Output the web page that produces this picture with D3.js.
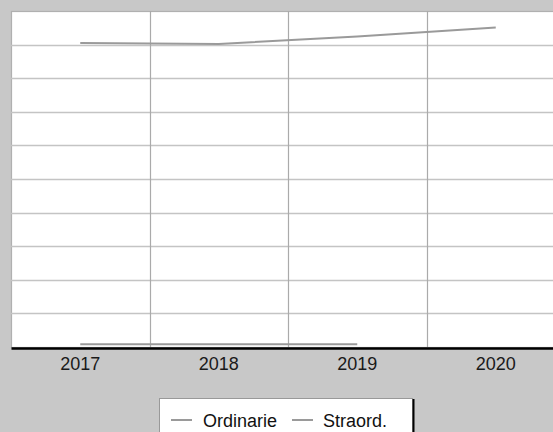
<!DOCTYPE html>
<html><head><meta charset="utf-8">
<script src="https://cdn.jsdelivr.net/npm/d3@7"></script>
<style>html,body{margin:0;padding:0;background:#c8c8c8;overflow:hidden}</style>
</head><body>
<svg id="c" width="553" height="432"></svg>
<script>
const categories = ["2017","2018","2019","2020"];
const ordinarie = [905, 902, 924, 951];
const straord = [8, 8, 8, null];
const yTicks = [0,100,200,300,400,500,600,700,800,900,1000];
const seriesNames = ["Ordinarie","Straord."];

(function(){
const svg = d3.select("#c");
const W = 553, H = 432;
const pL = 11, pT = 11, pB = 347, pR = 565;
const font = "'Liberation Sans', Arial, sans-serif";
svg.append("rect").attr("width",W).attr("height",H).attr("fill","#c8c8c8");

const x = d3.scaleBand().domain(categories).range([pL,pR]);
const y = d3.scaleLinear().domain([0,1000]).range([pB,pT]);

svg.append("rect").attr("x",pL+0.5).attr("y",pT+0.5).attr("width",pR-pL).attr("height",pB-pT)
  .attr("fill","#fff").attr("stroke","#b0b0b0").attr("stroke-width",1.2);

svg.append("g").selectAll("line").data(yTicks.slice(1,-1)).join("line")
  .attr("x1",pL).attr("x2",pR).attr("y1",d=>Math.round(y(d))+0.5).attr("y2",d=>Math.round(y(d))+0.5)
  .attr("stroke","#c4c4c4").attr("stroke-width",1.5);
svg.append("g").selectAll("line").data(categories.slice(1)).join("line")
  .attr("x1",d=>Math.round(x(d))+0.5).attr("x2",d=>Math.round(x(d))+0.5).attr("y1",pT).attr("y2",pB)
  .attr("stroke","#aaaaaa").attr("stroke-width",1.2);

const cx = d=>x(d)+x.bandwidth()/2;
const line = d3.line().defined(d=>d[1]!=null).x(d=>cx(d[0])).y(d=>y(d[1]));
[ordinarie, straord].forEach(s=>{
  svg.append("path").datum(categories.map((c,i)=>[c,s[i]])).attr("d",line)
    .attr("fill","none").attr("stroke","#9a9a9a").attr("stroke-width",2);
});

const ax = svg.append("g").attr("transform",`translate(0,${pB+1})`).call(d3.axisBottom(x).tickSize(0).tickPadding(0));
ax.select(".domain").attr("stroke","#000").attr("stroke-width",2.6);
ax.selectAll("text").attr("dy",null).attr("y",21.5).attr("font-family",font).attr("font-size",18).attr("fill","#1a1a1a");

const lg = svg.append("g");
lg.append("rect").attr("x",159.5).attr("y",398.5).attr("width",253).attr("height",50)
  .attr("fill","#fff").attr("stroke","#999");
lg.append("line").attr("x1",413.5).attr("x2",413.5).attr("y1",399).attr("y2",H).attr("stroke","#000").attr("stroke-width",2);
const items = [{lx:171, tx:203},{lx:292, tx:323}];
items.forEach((it,i)=>{
  lg.append("line").attr("x1",it.lx).attr("x2",it.lx+21).attr("y1",420).attr("y2",420).attr("stroke","#9a9a9a").attr("stroke-width",2);
  lg.append("text").attr("x",it.tx).attr("y",426.5).text(seriesNames[i])
    .attr("font-family",font).attr("font-size",18).attr("fill","#111");
});
})();
</script>
</body></html>
